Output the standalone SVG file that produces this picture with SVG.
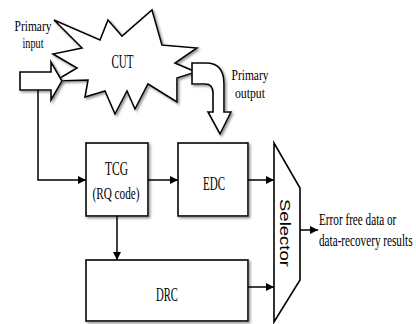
<svg xmlns="http://www.w3.org/2000/svg" width="416" height="324" viewBox="0 0 416 324">
<defs>
<filter id="sh" x="-10%" y="-10%" width="130%" height="130%">
<feDropShadow dx="1.6" dy="1.6" stdDeviation="0.8" flood-color="#777" flood-opacity="0.8"/>
</filter>
<marker id="ah" viewBox="0 0 10 10" refX="10" refY="5" markerWidth="8" markerHeight="8" markerUnits="userSpaceOnUse" orient="auto">
<path d="M0,0 L10,5 L0,10 Z" fill="#000"/>
</marker>
</defs>
<style>
.box{fill:#fff;stroke:#000;stroke-width:1.6;filter:url(#sh)}
.shape{fill:#fff;stroke:#000;stroke-width:1.6;stroke-linejoin:miter}
.t{font-family:"Liberation Serif","Times New Roman",serif;fill:#000;text-anchor:middle}
.c{fill:none;stroke:#000;stroke-width:1.5}
</style>
<rect width="416" height="324" fill="#fff"/>
<g id="cut">
<path class="shape" filter="url(#sh)" d="M54,20 L100,40 L108,20 L122,36 L152,10 L162,45 L197,48 L175,63 L196,72 L177,78 L177,102 L148,84 L135,109 L127,91 L115,114 L105,91 L85,97 L88,80 L55,81 L77,68 L53,54 L82,48 Z"/>
<text class="t" x="122.5" y="68" font-size="18" textLength="22" lengthAdjust="spacingAndGlyphs">CUT</text>
</g>
<g id="primary-input">
<path class="shape" filter="url(#sh)" d="M20,72 L51,72 L51,62 L62,81 L51,100 L51,90 L20,90 Z"/>
<text class="t" x="33" y="31" font-size="15" textLength="37" lengthAdjust="spacingAndGlyphs">Primary</text>
<text class="t" x="33" y="48" font-size="15" textLength="21" lengthAdjust="spacingAndGlyphs">input</text>
</g>
<g id="primary-output">
<path class="shape" filter="url(#sh)" d="M192,63 L206,63 Q224,63 224,84 L224,112 L231,112 L220,134 L208,112 L213,112 L213,93 Q213,84 205,84 L192,84 Z"/>
<text class="t" x="250" y="80" font-size="15" textLength="37" lengthAdjust="spacingAndGlyphs">Primary</text>
<text class="t" x="250" y="98" font-size="15" textLength="30" lengthAdjust="spacingAndGlyphs">output</text>
</g>
<g id="tcg">
<rect class="box" x="86" y="143" width="62" height="73"/>
<text class="t" x="116.5" y="175" font-size="18" textLength="23" lengthAdjust="spacingAndGlyphs">TCG</text>
<text class="t" x="116" y="199" font-size="17" textLength="47" lengthAdjust="spacingAndGlyphs">(RQ code)</text>
</g>
<g id="edc">
<rect class="box" x="178" y="143" width="70" height="73"/>
<text class="t" x="214" y="190" font-size="18" textLength="22" lengthAdjust="spacingAndGlyphs">EDC</text>
</g>
<g id="drc">
<rect class="box" x="86" y="260" width="162" height="61"/>
<text class="t" x="167" y="301" font-size="18" textLength="22" lengthAdjust="spacingAndGlyphs">DRC</text>
</g>
<g id="selector">
<path class="shape" d="M274,143 L300,188 L300,280 L274,322 Z"/>
<text x="0" y="0" transform="translate(280,233) rotate(90)" font-family="'Liberation Sans',Arial,sans-serif" font-size="15" text-anchor="middle" textLength="68" lengthAdjust="spacingAndGlyphs">Selector</text>
</g>
<g id="output-label" transform="translate(319,0) scale(0.7,1)">
<text class="t" x="0" y="225" font-size="16" style="text-anchor:start">Error free data or</text>
<text class="t" x="0" y="246" font-size="16" style="text-anchor:start">data-recovery results</text>
</g>
<g id="connectors">
<path class="c" d="M38,90 L38,180 L86,180" marker-end="url(#ah)"/>
<path class="c" d="M148,180 L178,180" marker-end="url(#ah)"/>
<path class="c" d="M117,216 L117,260" marker-end="url(#ah)"/>
<path class="c" d="M248,180 L274,180" marker-end="url(#ah)"/>
<path class="c" d="M248,287 L274,287" marker-end="url(#ah)"/>
<path class="c" d="M300,230 L318,230" marker-end="url(#ah)"/>
</g>
</svg>
